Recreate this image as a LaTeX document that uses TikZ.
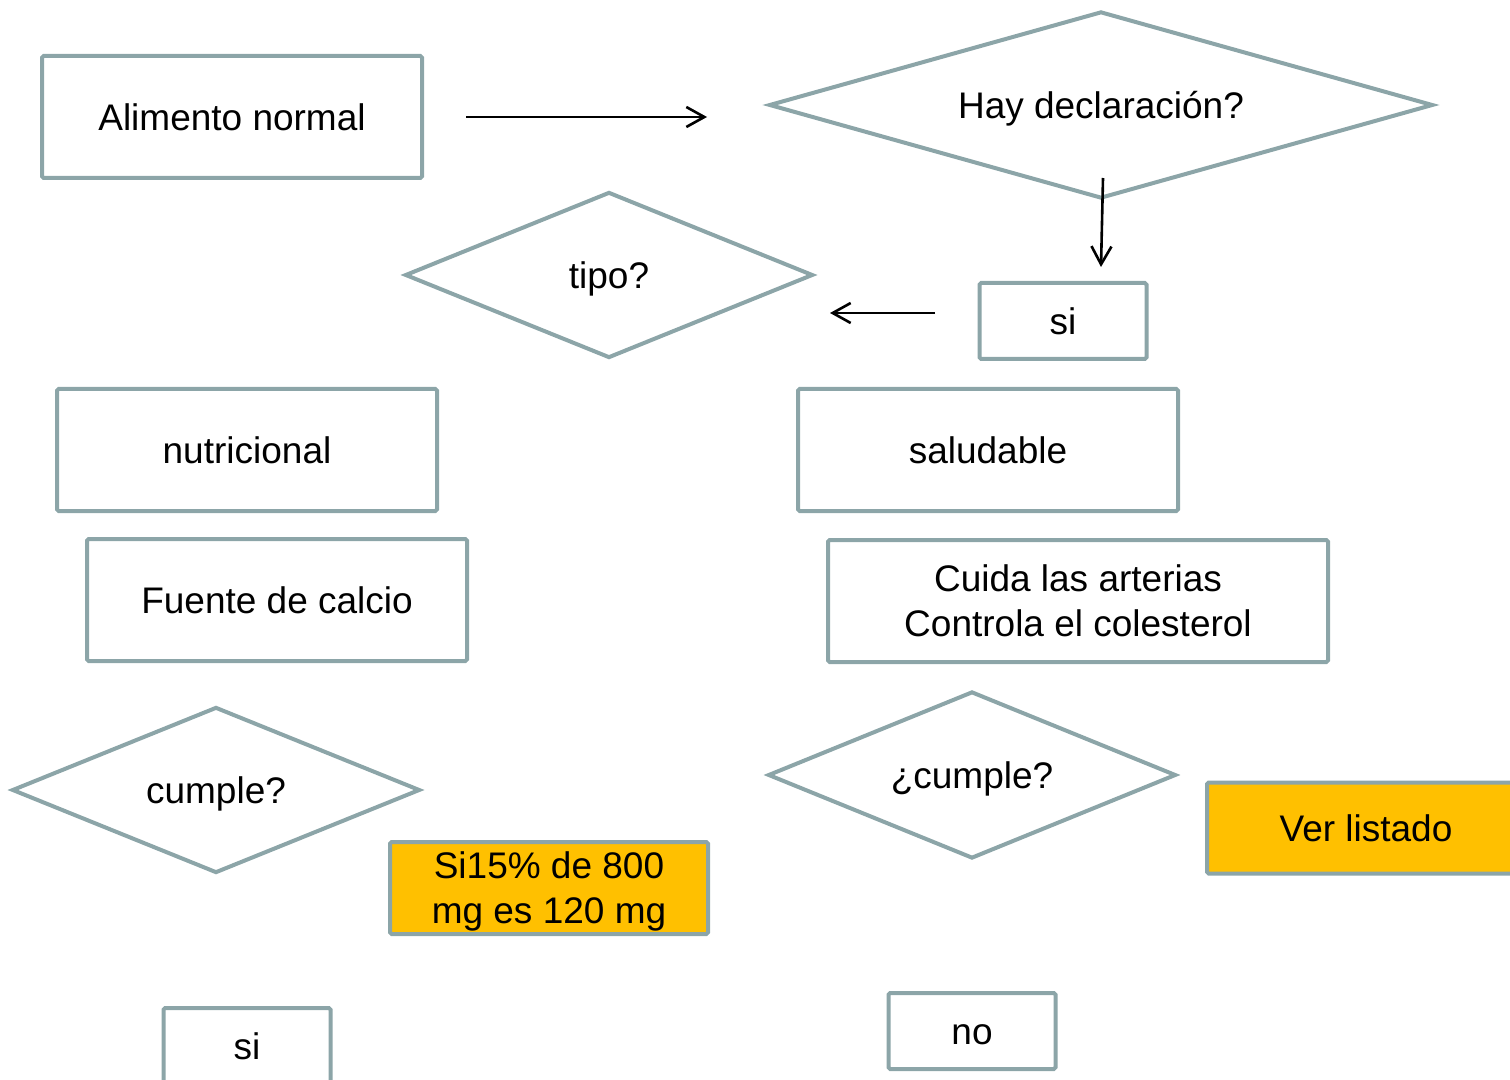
\documentclass[tikz,border=0pt]{standalone}
\usepackage{fontspec}
\setmainfont{Liberation Sans}
\usetikzlibrary{shapes.geometric,arrows.meta,positioning}
\definecolor{borde}{HTML}{8CA5A8}
\definecolor{naranja}{HTML}{FFC000}
\tikzset{
  texto/.style={font=\fontsize{18.5}{22.5}\selectfont,align=center,inner sep=0pt,text depth=0pt},
  linea/.style={text height=13.5pt},
  caja/.style={texto,draw=borde,line width=2pt,rectangle,rounded corners=0.8pt},
  rombo/.style={texto,linea,draw=borde,line width=2pt,diamond,aspect=#1},
  flecha/.style={-{Straight Barb[length=9pt,width=10pt]},line width=1.3pt},
}
\begin{document}
\begin{tikzpicture}[x=0.5pt,y=-0.5pt]
    \clip (0,0) rectangle (1510,1080);
    \useasboundingbox (0,0) rectangle (1510,1080);

    % Primera fila
    \node[caja,linea,minimum width=190pt,minimum height=61pt] (alim) at (232,117) {Alimento normal};
    \node[rombo=3.55,minimum width=332pt,minimum height=93.5pt] (decl) at (1101,105) {Hay declaración?};
    \node[caja,linea,minimum width=83.5pt,minimum height=38pt] (si1) at (1063,321) {si};
    \node[rombo=2.46,minimum width=204pt,minimum height=83pt] (tipo) at (609,275) {tipo?};

    % Dos ramas
    \node[caja,linea,minimum width=190pt,minimum height=61pt] (nutri) at (247,450) {nutricional};
    \node[caja,linea,minimum width=190pt,minimum height=61pt] (salud) at (988,450) {saludable};
    \node[caja,linea,minimum width=190pt,minimum height=61pt] (calcio) at (277,600) {Fuente de calcio};
    \node[caja,minimum width=250pt,minimum height=61pt] (cuida) at (1078,601) {Cuida las arterias\\Controla el colesterol};
    \node[rombo=2.46,minimum width=204pt,minimum height=83pt] (cumple1) at (216,790) {cumple?};
    \node[rombo=2.45,minimum width=204pt,minimum height=83.5pt] (cumple2) at (972,775) {¿cumple?};
    \node[caja,fill=naranja,minimum width=159pt,minimum height=46pt] (calculo) at (549,888) {Si15\% de 800\\mg es 120 mg};
    \node[caja,linea,fill=naranja,minimum width=159pt,minimum height=45.5pt] (listado) at (1366,828) {Ver listado};
    \node[caja,linea,minimum width=83.5pt,minimum height=38pt] (si2) at (247,1046) {si};
    \node[caja,linea,minimum width=83.5pt,minimum height=38pt] (no) at (972,1031) {no};

    % Flechas
    \coordinate (a1) at (466,117);
    \coordinate (a2) at (707,117);
    \coordinate (b1) at (1103,178);
    \coordinate (b2) at (1101,267);
    \coordinate (c1) at (935,313);
    \coordinate (c2) at (830,313);
    \draw[flecha] (a1) -- (a2);
    \draw[flecha] (b1) -- (b2);
    \draw[flecha] (c1) -- (c2);
\end{tikzpicture}
\end{document}
